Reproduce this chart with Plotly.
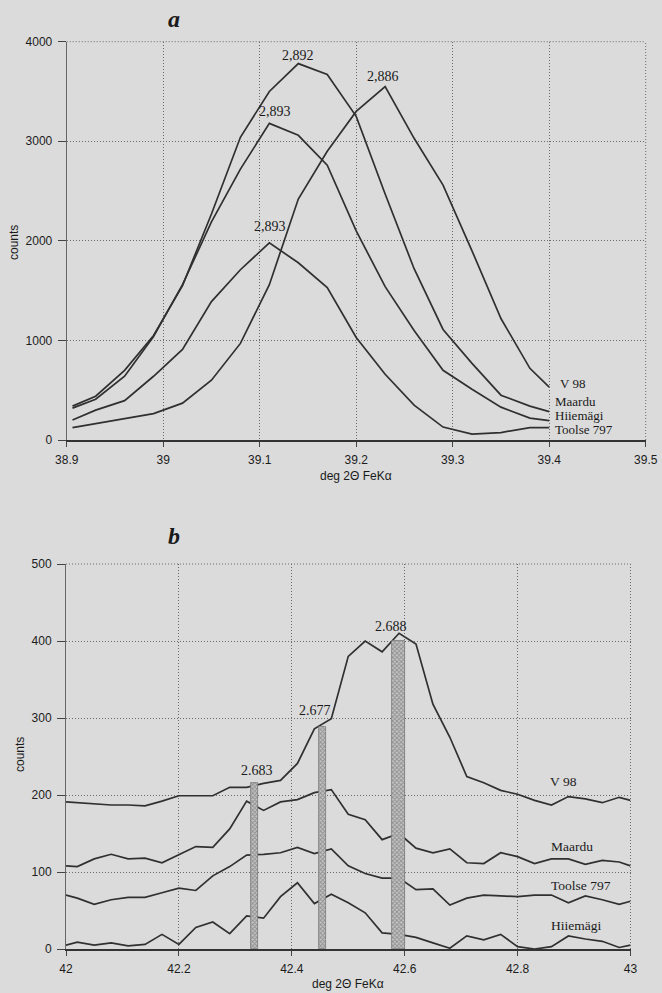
import plotly.graph_objects as go

# ---------------- Panel a data ----------------
x_a = [38.906, 38.93, 38.96, 38.99, 39.02, 39.05, 39.08, 39.11, 39.14, 39.17,
       39.20, 39.23, 39.26, 39.29, 39.32, 39.35, 39.38, 39.40]
v98_a = [125, 165, 215, 265, 370, 600, 970, 1560, 2420, 2900, 3300, 3550, 3030, 2560, 1900, 1220, 720, 530]
maardu_a = [340, 440, 700, 1050, 1550, 2270, 3040, 3500, 3780, 3670, 3250, 2470, 1720, 1110, 770, 450, 340, 285]
hiiemagi_a = [320, 410, 640, 1040, 1560, 2190, 2720, 3180, 3060, 2760, 2100, 1540, 1100, 700, 510, 330, 220, 195]
toolse_a = [200, 300, 395, 640, 910, 1390, 1710, 1980, 1780, 1530, 1030, 660, 350, 130, 60, 75, 125, 125]

peak_labels_a = ["2,892", "2,893", "2,893", "2,886"]
peak_x_a = [39.140, 39.116, 39.111, 39.228]
peak_y_a = [3865, 3296, 2142, 3648]

names_a = ["V 98", "Maardu", "Hiiemägi", "Toolse 797"]
name_x_a = [39.409, 39.404, 39.404, 39.404]
name_y_a = [564, 390, 250, 104]

xticks_a = [38.9, 39.0, 39.1, 39.2, 39.3, 39.4, 39.5]
xtick_text_a = ["38.9", "39", "39.1", "39.2", "39.3", "39.4", "39.5"]
yticks_a = [0, 1000, 2000, 3000, 4000]

# ---------------- Panel b data ----------------
x_b = [42.00, 42.02, 42.05, 42.08, 42.11, 42.14, 42.17, 42.20, 42.23, 42.26,
       42.29, 42.32, 42.35, 42.38, 42.41, 42.44, 42.47, 42.50, 42.53, 42.56,
       42.59, 42.62, 42.65, 42.68, 42.71, 42.74, 42.77, 42.80, 42.83, 42.86,
       42.89, 42.92, 42.95, 42.98, 43.00]
v98_b = [191, 190, 189, 187, 187, 186, 192, 199, 199, 199, 210, 210, 215, 219, 241, 286, 299, 380,
         400, 386, 410, 396, 318, 275, 224, 216, 206, 201, 193, 187, 198, 195, 190, 197, 193]
maardu_b = [108, 107, 117, 123, 117, 118, 112, 122, 133, 132, 156, 192, 180, 191, 194, 203, 207, 175,
            168, 142, 150, 131, 125, 130, 112, 111, 125, 120, 111, 117, 117, 110, 115, 113, 108]
toolse_b = [70, 66, 58, 64, 67, 67, 73, 79, 76, 95, 107, 122, 123, 125, 132, 124, 130, 108,
            98, 92, 92, 77, 78, 57, 66, 70, 69, 68, 70, 70, 60, 69, 64, 58, 62]
hiiemagi_b = [5, 9, 5, 8, 4, 6, 19, 6, 28, 35, 20, 43, 40, 68, 86, 59, 71, 60,
              47, 21, 19, 15, 8, 1, 17, 12, 19, 3, 0, 3, 17, 13, 10, 2, 5]

bar_x_b = [42.3335, 42.4545, 42.589]
bar_w_b = [0.013, 0.013, 0.022]
bar_h_b = [216, 288, 400]
bar_labels_b = ["2.683", "2.677", "2.688"]
bar_label_x_b = [42.338, 42.441, 42.576]
bar_label_y_b = [232, 310, 419]

names_b = ["V 98", "Maardu", "Toolse 797", "Hiiemägi"]
name_x_b = [42.853, 42.856, 42.856, 42.856]
name_y_b = [218, 133, 83, 30]

xticks_b = [42.0, 42.2, 42.4, 42.6, 42.8, 43.0]
xtick_text_b = ["42", "42.2", "42.4", "42.6", "42.8", "43"]
yticks_b = [0, 100, 200, 300, 400, 500]

# ---------------- styling ----------------
W, H = 662, 993
BG = "#dbdbdb"
LINE = "#303030"
GRID = "#6a6a6a"
GRID_DASH = "1px,2px"
SANS = "Liberation Sans, Arial, sans-serif"
SERIF = "Liberation Serif, Times New Roman, serif"
TXT = "#1c1c1c"

fig = go.Figure()

for ys in [v98_a, maardu_a, hiiemagi_a, toolse_a]:
    fig.add_trace(go.Scatter(x=x_a, y=ys, mode="lines", xaxis="x", yaxis="y",
                             line=dict(color=LINE, width=1.7), showlegend=False,
                             hoverinfo="skip"))

for ys in [v98_b, maardu_b, toolse_b, hiiemagi_b]:
    fig.add_trace(go.Scatter(x=x_b, y=ys, mode="lines", xaxis="x2", yaxis="y2",
                             line=dict(color=LINE, width=1.7), showlegend=False,
                             hoverinfo="skip"))

fig.add_trace(go.Bar(x=bar_x_b, y=bar_h_b, width=bar_w_b, xaxis="x3", yaxis="y3",
                     marker=dict(color="#9a9a9a", line=dict(width=0.8, color="#7a7a7a"),
                                 pattern=dict(shape="x", fgcolor="#5a5a5a", bgcolor="#c4c4c4",
                                              size=3, solidity=0.5)),
                     showlegend=False, hoverinfo="skip"))


def xax(domain, rng, tv, tt, anchor):
    return dict(domain=domain, range=rng, anchor=anchor, tickvals=tv, ticktext=tt,
                ticks="outside", ticklen=5, tickcolor="#444", tickwidth=1,
                showgrid=True, griddash=GRID_DASH, gridcolor=GRID, gridwidth=1,
                showline=True, linecolor="#333", linewidth=1.5, zeroline=False,
                tickfont=dict(family=SANS, size=12, color=TXT),
                ticklabelstandoff=3, automargin=False, fixedrange=True)


def yax(domain, rng, tv, anchor):
    return dict(domain=domain, range=rng, anchor=anchor, tickvals=tv,
                ticktext=[str(v) for v in tv],
                ticks="outside", ticklen=8, tickcolor="#444", tickwidth=1,
                showgrid=True, griddash=GRID_DASH, gridcolor=GRID, gridwidth=1,
                showline=True, linecolor="#666", linewidth=1, zeroline=False,
                tickfont=dict(family=SANS, size=12, color=TXT),
                ticklabelstandoff=3, automargin=False, fixedrange=True)


ann = []
for t, x, y in zip(peak_labels_a, peak_x_a, peak_y_a):
    ann.append(dict(text=t, x=x, y=y, xref="x", yref="y", showarrow=False,
                    xanchor="center", yanchor="middle",
                    font=dict(family=SERIF, size=14, color="#1a1a1a")))
for t, x, y in zip(names_a, name_x_a, name_y_a):
    ann.append(dict(text=t, x=x, y=y, xref="x", yref="y", showarrow=False,
                    xanchor="left", yanchor="middle",
                    font=dict(family=SERIF, size=13, color="#1a1a1a")))
for t, x, y in zip(bar_labels_b, bar_label_x_b, bar_label_y_b):
    ann.append(dict(text=t, x=x, y=y, xref="x2", yref="y2", showarrow=False,
                    xanchor="center", yanchor="middle",
                    font=dict(family=SERIF, size=14, color="#1a1a1a")))
for t, x, y in zip(names_b, name_x_b, name_y_b):
    ann.append(dict(text=t, x=x, y=y, xref="x2", yref="y2", showarrow=False,
                    xanchor="left", yanchor="middle",
                    font=dict(family=SERIF, size=13.5, color="#1a1a1a")))


def pann(text, xp, yp, size, family, angle=0):
    return dict(text=text, x=xp / W, y=1 - yp / H, xref="paper", yref="paper",
                xanchor="center", yanchor="middle", textangle=angle, showarrow=False,
                font=dict(family=family, size=size, color="#1a1a1a"))


ann += [
    pann("<b><i>a</i></b>", 174, 19, 24, SERIF),
    pann("<b><i>b</i></b>", 174, 536, 24, SERIF),
    pann("counts", 14, 243, 12, SANS, -90),
    pann("counts", 20, 755, 12, SANS, -90),
    pann("deg 2Θ FeKα", 356, 476, 12, SANS),
    pann("deg 2Θ FeKα", 348, 984, 12, SANS),
]

shapes = []
for xr, yr in [("x", "y"), ("x2", "y2")]:
    shapes.append(dict(type="line", xref=xr + " domain", yref=yr + " domain",
                       x0=0, x1=1, y0=1, y1=1, line=dict(color=GRID, width=1, dash=GRID_DASH)))
    shapes.append(dict(type="line", xref=xr + " domain", yref=yr + " domain",
                       x0=1, x1=1, y0=0, y1=1, line=dict(color=GRID, width=1, dash=GRID_DASH)))

dom_ax = [66.7 / W, 645.7 / W]
dom_ay = [1 - 440 / H, 1 - 41.7 / H]
dom_bx = [66 / W, 630.5 / W]
dom_by = [1 - 949 / H, 1 - 564 / H]

fig.update_layout(
    width=W, height=H,
    margin=dict(l=0, r=0, t=0, b=0, autoexpand=False),
    paper_bgcolor=BG, plot_bgcolor=BG,
    showlegend=False,
    bargap=0,
    xaxis=xax(dom_ax, [38.9, 39.5], xticks_a, xtick_text_a, "y"),
    yaxis=yax(dom_ay, [0, 4000], yticks_a, "x"),
    xaxis2=xax(dom_bx, [42, 43], xticks_b, xtick_text_b, "y2"),
    yaxis2=yax(dom_by, [0, 500], yticks_b, "x2"),
    xaxis3=dict(overlaying="x2", anchor="y3", range=[42, 43], visible=False, fixedrange=True),
    yaxis3=dict(overlaying="y2", anchor="x3", range=[0, 500], visible=False, fixedrange=True),
    annotations=ann,
    shapes=shapes,
)

# remove the browser's default 8px page margin so the figure fills the window
page_fix = ("document.body.style.margin='0';document.body.style.padding='0';"
            "document.body.style.overflow='hidden';"
            "document.body.style.background='" + BG + "';")

fig.write_html("out.html", config={"displayModeBar": False}, post_script=page_fix)
